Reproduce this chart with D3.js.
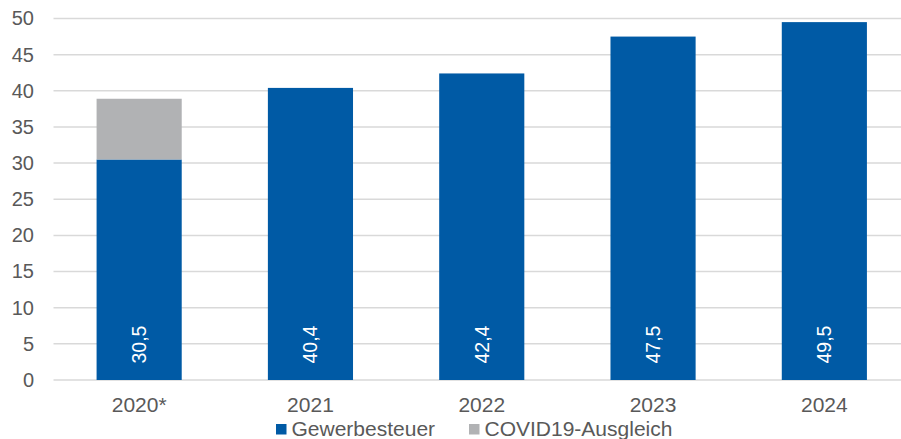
<!DOCTYPE html>
<html><head><meta charset="utf-8">
<script src="https://cdn.jsdelivr.net/npm/d3@7"></script>
<style>body{margin:0;background:#fff}svg{display:block}text{font-family:"Liberation Sans",Arial,sans-serif}</style>
</head><body>
<svg id="c" width="901" height="439"></svg>
<script>
const categories = ["2020*","2021","2022","2023","2024"];
const gewerbesteuer = [30.5,40.4,42.4,47.5,49.5];
const covid = [8.4,0,0,0,0];
const labels = ["30,5","40,4","42,4","47,5","49,5"];
const yTicks = [0,5,10,15,20,25,30,35,40,45,50];
const seriesNames = ["Gewerbesteuer","COVID19-Ausgleich"];
const colors = ["#005AA5","#B1B2B4"];

const svg = d3.select("#c");
const x = d3.scaleBand().domain(categories).range([53.5,910]).paddingInner(0.503).paddingOuter(0.2515);
const y = d3.scaleLinear().domain([0,50]).range([380,18.5]);
const textCol = "#595959";

// grid
svg.append("g").selectAll("line").data(yTicks).join("line")
  .attr("x1",53.5).attr("x2",901).attr("y1",d=>y(d)).attr("y2",d=>y(d))
  .attr("stroke","#D9D9D9").attr("stroke-width",1.5);

// y axis labels
const yAxis = d3.axisLeft(y).tickValues(yTicks).tickSize(0).tickPadding(0);
const ya = svg.append("g").attr("transform","translate(34,0)").call(yAxis);
ya.select(".domain").remove();
ya.selectAll("text").attr("fill",textCol).style("font-size","20px").attr("font-family","Liberation Sans, Arial, sans-serif");

// bars
const stack = categories.map((c,i)=>({c, g:gewerbesteuer[i], v:covid[i]}));
svg.append("g").selectAll("rect").data(stack).join("rect")
  .attr("x",d=>x(d.c)).attr("width",x.bandwidth())
  .attr("y",d=>y(d.g)).attr("height",d=>y(0)-y(d.g)).attr("fill",colors[0]);
svg.append("g").selectAll("rect").data(stack.filter(d=>d.v>0)).join("rect")
  .attr("x",d=>x(d.c)).attr("width",x.bandwidth())
  .attr("y",d=>y(d.g+d.v)).attr("height",d=>y(d.g)-y(d.g+d.v)).attr("fill",colors[1]);

// bar labels
svg.append("g").selectAll("text").data(stack).join("text")
  .attr("transform",d=>`translate(${x(d.c)+x.bandwidth()/2},${y(0)-16.5}) rotate(-90)`)
  .attr("dy","0.35em").attr("fill","#fff").style("font-size","19.5px")
  .text((d,i)=>labels[i]);

// x axis
const xAxis = d3.axisBottom(x).tickSize(0).tickPadding(0);
const xa = svg.append("g").attr("transform","translate(0,0)").call(xAxis);
xa.select(".domain").remove();
xa.selectAll("text").attr("y",411.5).attr("dy",null).attr("fill",textCol).style("font-size","21px").attr("font-family","Liberation Sans, Arial, sans-serif");

// legend
const leg = svg.append("g");
const legX = [276,469];
seriesNames.forEach((n,i)=>{
  leg.append("rect").attr("x",legX[i]).attr("y",424).attr("width",10.5).attr("height",10.5).attr("fill",colors[i]);
  leg.append("text").attr("x",legX[i]+15.5).attr("y",435.5).attr("fill",textCol).style("font-size","21px").text(n);
});
</script>
</body></html>
